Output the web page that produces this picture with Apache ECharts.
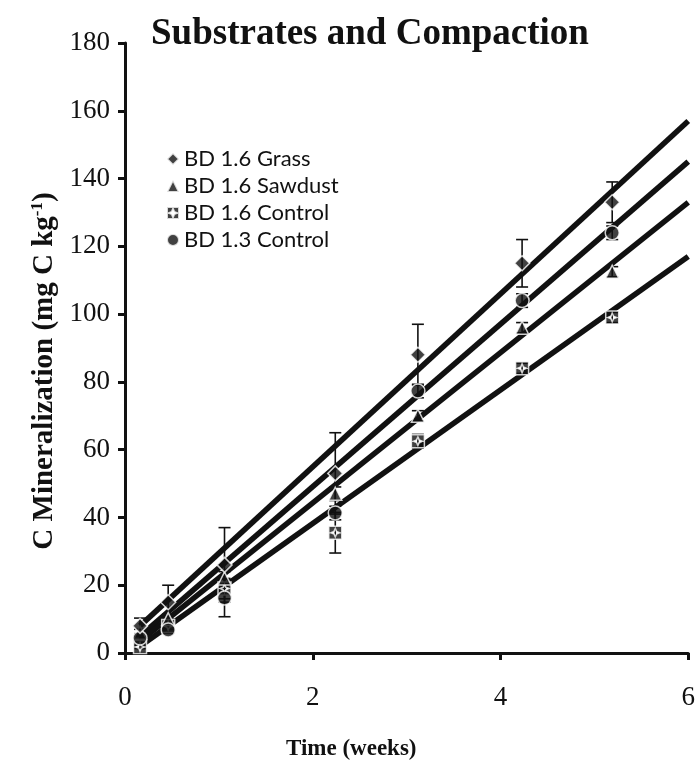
<!DOCTYPE html>
<html>
<head>
<meta charset="utf-8">
<script src="https://cdn.jsdelivr.net/npm/echarts@6/dist/echarts.min.js"></script>
<style>
  html, body { margin: 0; padding: 0; background: #ffffff; }
  #chart { width: 698px; height: 761px; }
</style>
</head>
<body>
<div id="chart"></div>
<script>
// Sampling times (weeks)
var weeks = [0.16, 0.46, 1.06, 2.24, 3.12, 4.23, 5.19];

// Cumulative C mineralization (mg C kg-1) and standard errors
var grass      = [8, 15, 26, 53, 88, 115, 133];
var grassErr   = [2.3, 5, 11, 12, 9, 7, 6];
var sawdust    = [6, 10, 22, 47, 70, 96, 112.5];
var sawdustErr = [1, 1.5, 2, 2, 1.5, 1.5, 1.5];
var ctrl16     = [1.8, 8, 19, 35.5, 62.5, 84, 99];
var ctrl16Err  = [0.5, 1, 3, 6, 2, 1.5, 1.5];
var ctrl13     = [4.4, 6.8, 16.2, 41.3, 77.3, 104, 124];
var ctrl13Err  = [1, 1, 5.5, 2, 2, 2, 2];

// Linear trend lines: [start, end] in weeks and mg C kg-1
var trendWeeks   = [0.16, 6];
var grassTrend   = [8, 157];
var ctrl13Trend  = [5, 145];
var sawdustTrend = [3.5, 133];
var ctrl16Trend  = [2, 117];

// Axis ticks
var xTicks = { min: 0, max: 6, interval: 2 };
var yTicks = { min: 0, max: 180, interval: 20 };

var names = ['BD 1.6 Grass', 'BD 1.6 Sawdust', 'BD 1.6 Control', 'BD 1.3 Control'];

var serif = 'Liberation Serif';
var sans = 'Lato';

// square with a four-pointed star cut out of it
var starBox = 'path://M0 0H10V10H0Z M5 1.6L4 4L1.6 5L4 6L5 8.4L6 6L8.4 5L6 4Z';

function pairs(xs, ys) {
  return xs.map(function (x, i) { return [x, ys[i]]; });
}
function errData(xs, ys, es) {
  return xs.map(function (x, i) { return [x, ys[i] - es[i], ys[i] + es[i]]; });
}

function errorSeries(name, xs, ys, es) {
  return {
    type: 'custom',
    name: name + ' error',
    data: errData(xs, ys, es),
    z: 3,
    silent: true,
    renderItem: function (params, api) {
      var x = api.value(0);
      var lo = api.coord([x, api.value(1)]);
      var hi = api.coord([x, api.value(2)]);
      var w = 6;
      var st = { stroke: '#111', lineWidth: 1.6 };
      return {
        type: 'group',
        children: [
          { type: 'line', shape: { x1: lo[0], y1: lo[1], x2: hi[0], y2: hi[1] }, style: st },
          { type: 'line', shape: { x1: hi[0] - w, y1: hi[1], x2: hi[0] + w, y2: hi[1] }, style: st },
          { type: 'line', shape: { x1: lo[0] - w, y1: lo[1], x2: lo[0] + w, y2: lo[1] }, style: st }
        ]
      };
    }
  };
}

function trendSeries(name, ys) {
  return {
    type: 'line',
    name: name + ' trend',
    data: pairs(trendWeeks, ys),
    symbol: 'none',
    z: 4,
    silent: true,
    lineStyle: { color: '#111', width: 5.5 }
  };
}

function pointSeries(name, ys, symbol, size) {
  return {
    type: 'scatter',
    name: name,
    data: pairs(weeks, ys),
    symbol: symbol,
    symbolSize: size,
    z: 5,
    itemStyle: { color: '#111', borderColor: '#fff', borderWidth: 1.5 }
  };
}

var chart = echarts.init(document.getElementById('chart'), null, { renderer: 'canvas' });

chart.setOption({
  backgroundColor: '#ffffff',
  animation: false,
  title: [
    {
      text: 'Substrates and Compaction',
      left: 146, top: 11,
      textStyle: { fontFamily: serif, fontWeight: 'bold', fontSize: 37, color: '#111' }
    },
    {
      text: 'Time (weeks)',
      left: 281, top: 733,
      textStyle: { fontFamily: serif, fontWeight: 'bold', fontSize: 23, color: '#111' }
    }
  ],
  legend: {
    data: names,
    orient: 'vertical',
    left: 161, top: 143,
    itemWidth: 12, itemHeight: 12,
    itemGap: 5,
    textStyle: { fontFamily: sans, fontSize: 22, color: '#111' }
  },
  grid: { left: 125, right: 9, top: 43, bottom: 108 },
  xAxis: {
    type: 'value',
    min: xTicks.min, max: xTicks.max, interval: xTicks.interval,
    axisLine: { lineStyle: { color: '#111', width: 3 } },
    axisTick: { inside: false, length: 7, lineStyle: { color: '#111', width: 3 } },
    axisLabel: { margin: 31, fontFamily: serif, fontSize: 27, color: '#111' },
    splitLine: { show: false }
  },
  yAxis: {
    type: 'value',
    min: yTicks.min, max: yTicks.max, interval: yTicks.interval,
    name: '{a|C Mineralization (mg C kg}{s|-1}{a|)}',
    nameLocation: 'middle',
    nameRotate: 90,
    nameGap: 65,
    nameTextStyle: {
      padding: [0, 46, 0, 0],
      rich: {
        a: { fontFamily: serif, fontWeight: 'bold', fontSize: 29, color: '#111' },
        s: { fontFamily: serif, fontWeight: 'bold', fontSize: 17, color: '#111', padding: [0, 0, 12, 0] }
      }
    },
    axisLine: { show: true, lineStyle: { color: '#111', width: 3 } },
    axisTick: { show: true, inside: false, length: 7, lineStyle: { color: '#111', width: 3 } },
    axisLabel: { margin: 15, fontFamily: serif, fontSize: 27, color: '#111' },
    splitLine: { show: false }
  },
  series: [
    trendSeries(names[0], grassTrend),
    trendSeries(names[3], ctrl13Trend),
    trendSeries(names[1], sawdustTrend),
    trendSeries(names[2], ctrl16Trend),
    errorSeries(names[0], weeks, grass, grassErr),
    errorSeries(names[1], weeks, sawdust, sawdustErr),
    errorSeries(names[2], weeks, ctrl16, ctrl16Err),
    errorSeries(names[3], weeks, ctrl13, ctrl13Err),
    pointSeries(names[2], ctrl16, starBox, 13),
    pointSeries(names[1], sawdust, 'triangle', 13),
    pointSeries(names[3], ctrl13, 'circle', 14),
    pointSeries(names[0], grass, 'diamond', 15)
  ]
});
</script>
</body>
</html>
